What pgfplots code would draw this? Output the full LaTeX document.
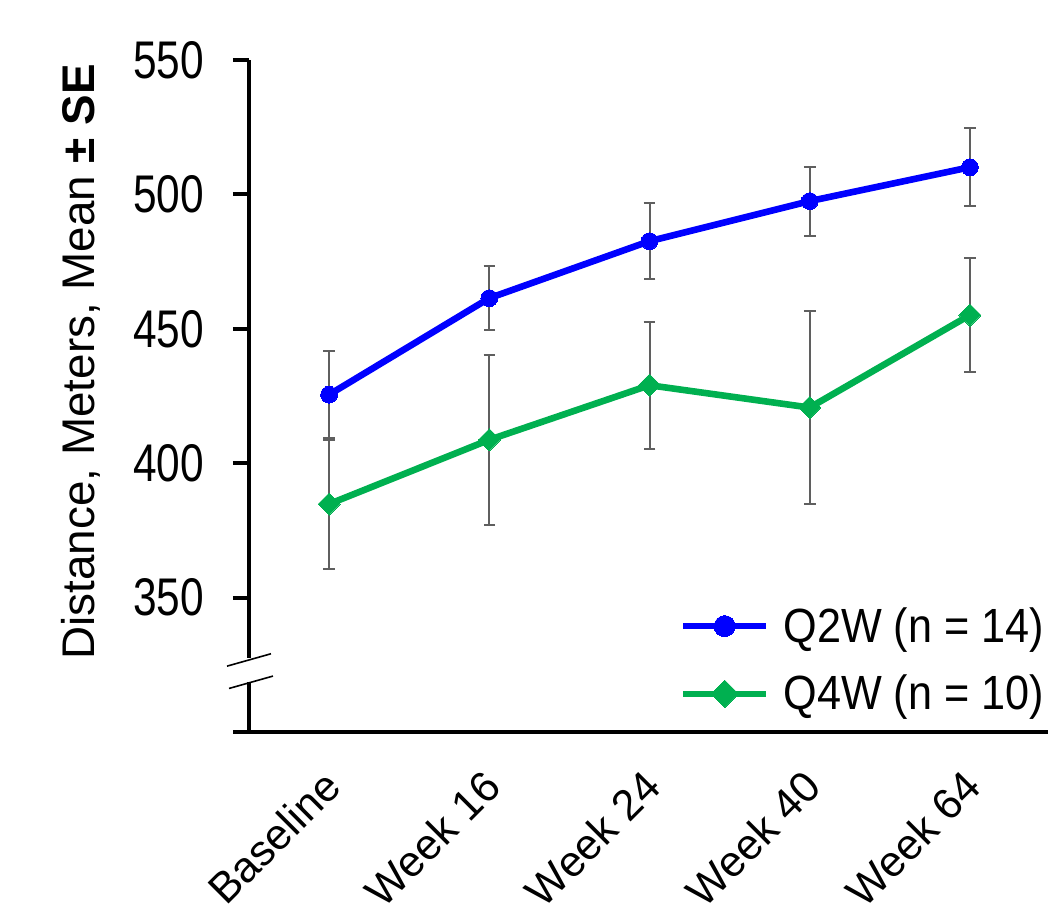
\documentclass[border=0pt]{standalone}
\usepackage{fontspec}
\setmainfont{Liberation Sans}
\newfontfamily\condfont{Liberation Sans}[FakeStretch=0.8]
\newfontfamily\legfont{Liberation Sans}[FakeStretch=0.9]
\usepackage{pgfplots}
\pgfplotsset{compat=1.18}
\definecolor{qblue}{HTML}{0000FF}
\definecolor{qgreen}{HTML}{00B050}
\definecolor{ebgray}{HTML}{5F5F5F}
\begin{document}
\begin{tikzpicture}
\useasboundingbox (-124.5pt,-91pt) rectangle (399.5pt,366pt);
\begin{axis}[
  at={(0,0)}, anchor=south west,
  scale only axis, width=400.5pt, height=336pt,
  xmin=-0.5, xmax=4.5, ymin=300, ymax=550,
  clip=false,
  axis x line=bottom, axis y line=left,
  axis line style={line width=2pt,-},
  tick align=outside,
  major tick length=8pt,
  ytick={350,400,450,500,550},
  ytick style={line width=2pt, black},
  xtick={0,1,2,3,4},
  xticklabels={Baseline,Week 16,Week 24,Week 40,Week 64},
  xtick style={draw=none},
  /pgf/number format/assume math mode=true,
  yticklabel style={font=\condfont\fontsize{26.5}{28}\selectfont, anchor=east, xshift=-11pt},
  xticklabel style={font=\fontsize{21.5}{24}\selectfont, anchor=east, xshift=4pt, yshift=-13pt, rotate=45},
  ylabel={Distance, Meters, Mean \textbf{± SE}},
  every axis y label/.style={at={(axis description cs:-0.2097,0.551)}, anchor=center, rotate=90, font=\fontsize{22.9}{26}\selectfont},
  legend style={at={(axis description cs:0.993,0.028)}, anchor=south east, draw=none, fill=none,
    font=\legfont\fontsize{24}{26}\selectfont, inner sep=0pt, row sep=15pt,
    nodes={inner sep=0pt, anchor=west}},
  legend cell align=left,
  legend image code/.code={\draw[mark repeat=2, mark phase=2, #1, every mark/.append style={scale=1.25}] plot coordinates {(0pt,0pt) (20.75pt,0pt) (41.5pt,0pt)};},
]
% error bars
\addplot[draw=none, forget plot, error bars/.cd, y dir=both, y explicit,
  error bar style={ebgray, line width=1pt},
  error mark options={ebgray, rotate=90, mark size=2.9pt, line width=1pt}]
  coordinates {(0,425.5) +- (0,16.3) (1,461.4) +- (0,11.9) (2,482.6) +- (0,14.2) (3,497.5) +- (0,12.8) (4,510.1) +- (0,14.5)};
\addplot[draw=none, forget plot, error bars/.cd, y dir=both, y explicit,
  error bar style={ebgray, line width=1pt},
  error mark options={ebgray, rotate=90, mark size=2.9pt, line width=1pt}]
  coordinates {(0,384.8) +- (0,24) (1,408.7) +- (0,31.7) (2,429) +- (0,23.6) (3,420.7) +- (0,36) (4,455.1) +- (0,21.1)};
% lines
\addplot[qblue, line width=3.3pt, mark=*, mark size=4.2pt, mark options={solid, fill=qblue, draw=qblue, line width=0pt}]
  coordinates {(0,425.5) (1,461.4) (2,482.6) (3,497.5) (4,510.1)};
\addlegendentry{\hspace{7pt}Q2W (n = 14)}
\addplot[qgreen, line width=3.3pt, mark=square*, mark size=3.9pt, mark options={solid, rotate=45, fill=qgreen, draw=qgreen, line width=0pt}]
  coordinates {(0,384.8) (1,408.7) (2,429) (3,420.7) (4,455.1)};
\addlegendentry{\hspace{7pt}Q4W (n = 10)}
\coordinate (brk) at (axis cs:-0.5,322.9);
\coordinate (s1) at (axis cs:-0.5,326.8);
\coordinate (s2) at (axis cs:-0.5,318.5);
\coordinate (o) at (axis cs:-0.5,300);
\end{axis}
\fill[white] ([xshift=-1.6pt,yshift=-6pt]brk) rectangle ([xshift=1.6pt,yshift=6pt]brk);
\draw[line width=0.8pt] ([xshift=-11pt,yshift=-3.1pt]s1) -- ([xshift=11pt,yshift=3.1pt]s1);
\draw[line width=0.8pt] ([xshift=-10pt,yshift=-3.1pt]s2) -- ([xshift=12pt,yshift=3.1pt]s2);
\draw[line width=2pt] ([xshift=-8pt]o) -- (o);
\end{tikzpicture}
\end{document}
